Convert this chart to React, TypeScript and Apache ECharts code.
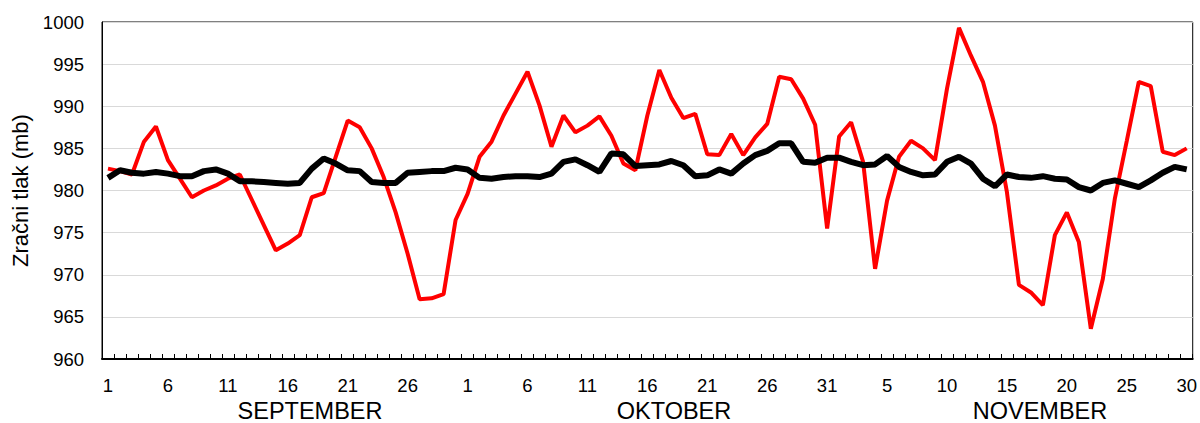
import React, { useEffect, useRef } from "react";
import * as echarts from "echarts";

const months = ["SEPTEMBER", "OKTOBER", "NOVEMBER"];
const monthLengths = [30, 31, 30];

const dailyPressure = [
  982.6, 982.3, 981.9, 985.8, 987.6, 983.6, 981.4, 979.2, 980.0, 980.6,
  981.4, 981.9, 978.9, 975.9, 972.9, 973.7, 974.7, 979.2, 979.7, 984.0,
  988.3, 987.5, 985.0, 981.6, 977.4, 972.5, 967.1, 967.2, 967.7, 976.5,
  979.6, 984.0, 985.8, 988.9, 991.5, 994.1, 990.1, 985.2, 988.9, 986.9,
  987.7, 988.8, 986.5, 983.2, 982.4, 988.9, 994.3, 991.0, 988.6, 989.1,
  984.3, 984.2, 986.7, 984.2, 986.3, 987.9, 993.5, 993.2, 990.9, 987.8,
  975.5, 986.4, 988.1, 983.4, 970.7, 978.8, 984.0, 985.9, 985.0, 983.6,
  992.1, 999.3, 996.0, 992.9, 987.7, 979.8, 968.8, 967.9, 966.4, 974.7,
  977.4, 973.9, 963.6, 969.5, 979.0, 985.9, 992.9, 992.4, 984.6, 984.2,
  985.0,
];

const meanPressure = [
  981.5, 982.4, 982.1, 982.0, 982.2, 982.0, 981.7, 981.7, 982.3, 982.5,
  982.0, 981.1, 981.1, 981.0, 980.9, 980.8, 980.9, 982.6, 983.8, 983.2,
  982.4, 982.3, 981.0, 980.9, 980.9, 982.1, 982.2, 982.3, 982.3, 982.7,
  982.5, 981.5, 981.4, 981.6, 981.7, 981.7, 981.6, 982.0, 983.4, 983.7,
  983.0, 982.2, 984.4, 984.3, 982.9, 983.0, 983.1, 983.5, 983.0, 981.7,
  981.8, 982.5, 982.0, 983.2, 984.2, 984.7, 985.6, 985.6, 983.4, 983.3,
  983.9, 983.9, 983.4, 983.0, 983.1, 984.1, 982.8, 982.2, 981.8, 981.9,
  983.4, 984.0, 983.2, 981.4, 980.5, 981.9, 981.6, 981.5, 981.7, 981.4,
  981.3, 980.4, 980.0, 980.9, 981.2, 980.8, 980.4, 981.2, 982.1, 982.8,
  982.5,
];

const yMin = 960;
const yMax = 1000;
const yStep = 5;
const yTitle = "Zračni tlak (mb)";

const categories: string[] = [];
monthLengths.forEach((len, m) => {
  for (let d = 1; d <= len; d++) categories.push(`${m}-${d}`);
});

export default function App() {
  const ref = useRef<HTMLDivElement>(null);
  useEffect(() => {
    if (!ref.current) return;
    const chart = echarts.init(ref.current, null, { renderer: "svg" });
    const font = "Liberation Sans, Arial, sans-serif";
    const monthFont = `23.5px ${font}`;
    chart.setOption({
      animation: false,
      grid: {
        left: 102,
        right: 7,
        top: 22,
        bottom: 64,
        show: true,
        borderColor: "#000",
        borderWidth: 1,
      },
      xAxis: {
        type: "category",
        data: categories,
        boundaryGap: true,
        axisLine: { show: true, lineStyle: { color: "#000", width: 2 } },
        axisTick: {
          show: true,
          inside: true,
          interval: 0,
          length: 5,
          alignWithLabel: false,
          lineStyle: { color: "#000", width: 1 },
        },
        axisLabel: {
          interval: 4,
          margin: 17,
          color: "#000",
          fontFamily: font,
          fontSize: 18.5,
          formatter: (v: string) => v.split("-")[1],
        },
        splitLine: { show: false },
      },
      yAxis: {
        type: "value",
        min: yMin,
        max: yMax,
        interval: yStep,
        name: yTitle,
        nameLocation: "middle",
        nameGap: 66,
        nameRotate: 90,
        nameTextStyle: { color: "#000", fontFamily: font, fontSize: 22 },
        axisLine: { show: true, lineStyle: { color: "#000", width: 1 } },
        axisTick: { show: false },
        axisLabel: {
          margin: 18,
          color: "#000",
          fontFamily: font,
          fontSize: 18.5,
          formatter: (v: number) => String(v),
        },
        splitLine: { show: true, lineStyle: { color: "#d9d9d9", width: 1 } },
      },
      graphic: [
        { type: "text", x: 310, y: 411, style: { text: months[0], fill: "#000", font: monthFont, textAlign: "center", textVerticalAlign: "middle" } },
        { type: "text", x: 674, y: 411, style: { text: months[1], fill: "#000", font: monthFont, textAlign: "center", textVerticalAlign: "middle" } },
        { type: "text", x: 1040, y: 411, style: { text: months[2], fill: "#000", font: monthFont, textAlign: "center", textVerticalAlign: "middle" } },
      ],
      series: [
        {
          type: "line",
          data: dailyPressure,
          symbol: "none",
          lineStyle: { color: "#ff0000", width: 4 },
          itemStyle: { color: "#ff0000" },
        },
        {
          type: "line",
          data: meanPressure,
          symbol: "none",
          lineStyle: { color: "#000000", width: 6 },
          itemStyle: { color: "#000000" },
        },
      ],
    });
    return () => chart.dispose();
  }, []);
  return (
    <div
      ref={ref}
      style={{ position: "absolute", left: 0, top: 0, width: 1200, height: 423 }}
    />
  );
}
